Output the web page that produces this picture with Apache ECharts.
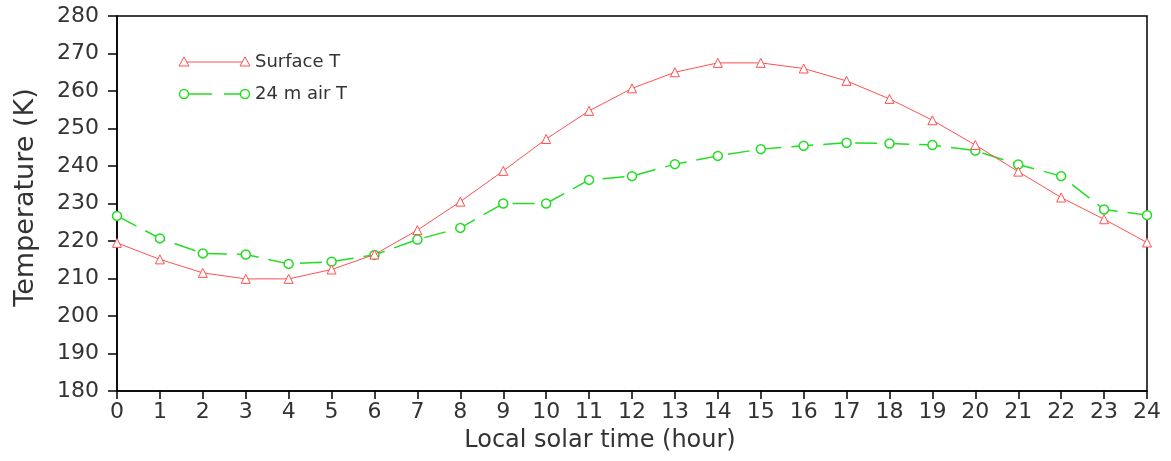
<!DOCTYPE html>
<html>
<head>
<meta charset="utf-8">
<script src="https://cdn.jsdelivr.net/npm/echarts@6/dist/echarts.min.js"></script>
<style>
html, body { margin: 0; padding: 0; background: #fff; }
#main { width: 1171px; height: 461px; }
</style>
</head>
<body>
<div id="main"></div>
<script>
var hours = [0, 1, 2, 3, 4, 5, 6, 7, 8, 9, 10, 11, 12, 13, 14, 15, 16, 17, 18, 19, 20, 21, 22, 23, 24];
var surfaceT = [219.5, 215.1, 211.5, 209.9, 209.9, 212.4, 216.4, 222.9, 230.5, 238.7, 247.2, 254.7, 260.7, 265.0, 267.5, 267.5, 266.0, 262.7, 257.9, 252.2, 245.6, 238.5, 231.6, 225.8, 219.6];
var airT = [226.7, 220.7, 216.7, 216.4, 213.9, 214.5, 216.3, 220.4, 223.5, 230.0, 230.0, 236.3, 237.3, 240.5, 242.7, 244.5, 245.4, 246.2, 246.0, 245.6, 244.1, 240.4, 237.3, 228.4, 226.9];
var seriesNames = ['Surface T', '24 m air T'];

var red = '#ff5050';
var green = '#22dd22';
var font = 'DejaVu Sans';
var textColor = '#333';

function pairs(ys) {
	var out = [];
	for (var k = 0; k < hours.length; k++) {
		out.push([hours[k], ys[k]]);
	}
	return out;
}

var myChart = echarts.init(document.getElementById('main'));

var option = {
	animation: false,
	backgroundColor: '#fff',
	grid: {
		left: 117,
		right: 24,
		top: 16,
		bottom: 70,
		outerBoundsMode: 'none',
		containLabel: false,
		show: true,
		borderColor: '#000',
		borderWidth: 1.5
	},
	xAxis: {
		type: 'value',
		min: 0,
		max: 24,
		interval: 1,
		name: 'Local solar time (hour)',
		nameLocation: 'middle',
		nameGap: 38,
		// title sits a little left of the plot centre in the original
		nameTextStyle: { fontFamily: font, fontSize: 24, color: textColor, padding: [0, 64, 0, 0] },
		axisLine: { show: true, onZero: false, lineStyle: { color: '#000', width: 1.5 } },
		axisTick: { show: true, inside: false, length: 8, lineStyle: { color: '#000', width: 1.5 } },
		axisLabel: { fontFamily: font, fontSize: 22, color: textColor, margin: 10 },
		splitLine: { show: false }
	},
	yAxis: {
		type: 'value',
		min: 180,
		max: 280,
		interval: 10,
		name: 'Temperature (K)',
		nameLocation: 'middle',
		nameGap: 78,
		nameTextStyle: { fontFamily: font, fontSize: 27, color: textColor, padding: [0, 0, 0, 12] },
		axisLine: { show: true, lineStyle: { color: '#000', width: 1.5 } },
		axisTick: { show: true, inside: false, length: 9, lineStyle: { color: '#000', width: 1.5 } },
		axisLabel: { fontFamily: font, fontSize: 22, color: textColor, margin: 18 },
		splitLine: { show: false }
	},
	series: [{
		name: seriesNames[0],
		type: 'line',
		data: pairs(surfaceT),
		symbol: 'triangle',
		symbolSize: 9,
		showAllSymbol: true,
		lineStyle: { color: red, width: 1 },
		itemStyle: { color: '#fff', borderColor: red, borderWidth: 1 },
		z: 3
	}, {
		name: seriesNames[1],
		type: 'line',
		data: pairs(airT),
		symbol: 'circle',
		symbolSize: 9,
		showAllSymbol: true,
		lineStyle: { color: green, width: 1.5, type: [22, 10] },
		itemStyle: { color: '#fff', borderColor: green, borderWidth: 1.5 },
		z: 2
	}],
	// legend drawn by hand: line with a marker at each end, then the label
	graphic: [
		{ type: 'line', shape: { x1: 184, y1: 62, x2: 245, y2: 62 }, style: { stroke: red, lineWidth: 1 } },
		{ type: 'polygon', shape: { points: [[179, 66], [184, 57], [189, 66]] }, style: { fill: '#fff', stroke: red, lineWidth: 1 } },
		{ type: 'polygon', shape: { points: [[240, 66], [245, 57], [250, 66]] }, style: { fill: '#fff', stroke: red, lineWidth: 1 } },
		{ type: 'text', x: 255, y: 62, style: { text: seriesNames[0], fill: textColor, font: '18px "' + font + '"', verticalAlign: 'middle' } },
		{ type: 'line', shape: { x1: 188, y1: 94, x2: 241, y2: 94 }, style: { stroke: green, lineWidth: 1.5, lineDash: [24, 12] } },
		{ type: 'circle', shape: { cx: 184, cy: 94, r: 4.5 }, style: { fill: '#fff', stroke: green, lineWidth: 1.5 } },
		{ type: 'circle', shape: { cx: 245, cy: 94, r: 4.5 }, style: { fill: '#fff', stroke: green, lineWidth: 1.5 } },
		{ type: 'text', x: 255, y: 94, style: { text: seriesNames[1], fill: textColor, font: '18px "' + font + '"', verticalAlign: 'middle' } }
	]
};

myChart.setOption(option);
</script>
</body>
</html>
